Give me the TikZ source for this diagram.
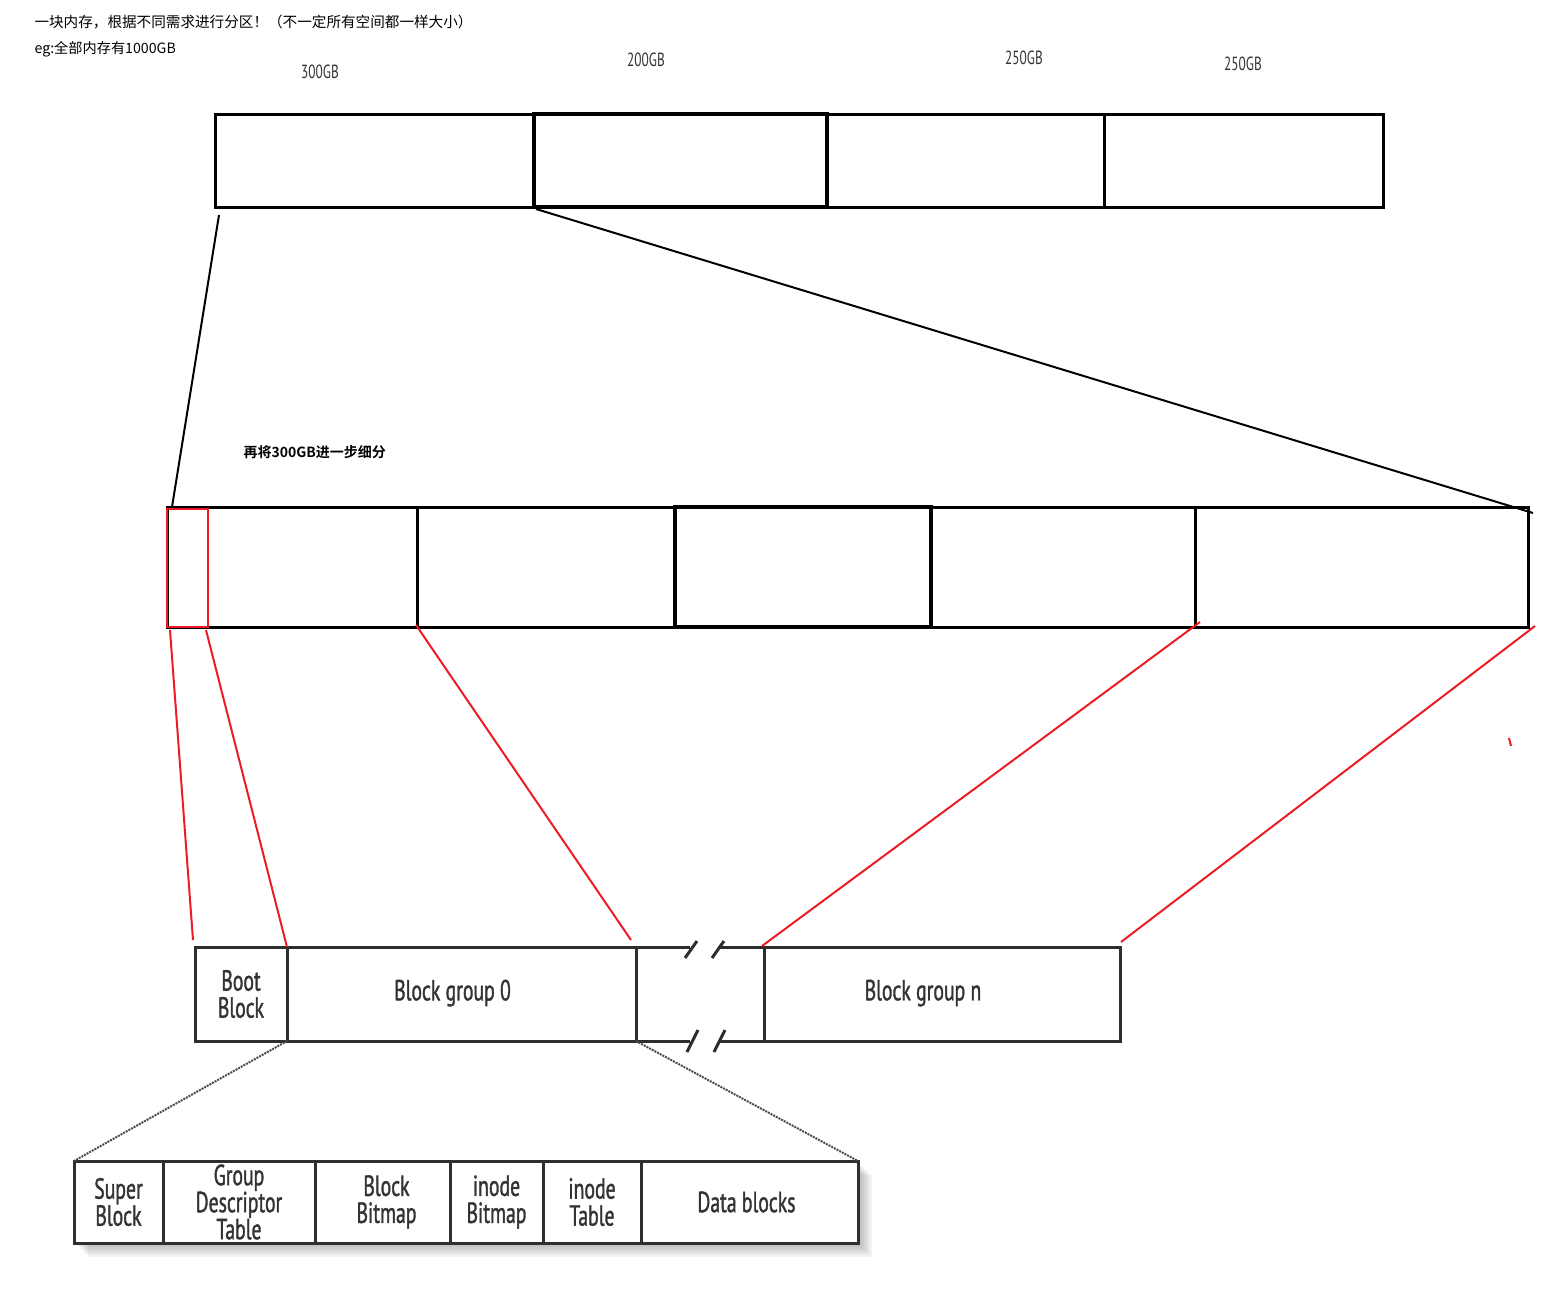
\documentclass[tikz,border=0pt]{standalone}
\usepackage{fontspec}
\newfontfamily\cjkfont[BoldFont={* Bold}]{Noto Sans CJK SC}
\newfontfamily\narrowfont[FakeStretch=0.7]{PT Sans}
\newfontfamily\cellfont[FakeStretch=0.68, FakeBold=1.2]{PT Sans}
\usetikzlibrary{positioning}
\definecolor{paintred}{RGB}{237,28,36}

\tikzset{
  part/.style={draw, line width=3pt, inner sep=0pt, outer sep=0pt, anchor=north west},
  redpart/.style={part, draw=paintred, line width=2.5pt},
  cell/.style={draw=black!82, line width=3pt, inner sep=0pt, outer sep=0pt, anchor=north west,
    font=\cellfont\fontsize{29}{27}\selectfont, text=black!80, align=center},
  cellline/.style={draw=black!82, line width=3pt},
  zoomline/.style={paintred, line width=2pt},
  blackline/.style={line width=2pt},
  dotline/.style={black!70, line width=2pt, densely dotted},
  gblabel/.style={font=\narrowfont\fontsize{19}{19}\selectfont, text=black!80}
}

\begin{document}
\begin{tikzpicture}[x=1pt, y=-1pt]
\useasboundingbox (0,0) rectangle (1545,1291);
% notes
\node[anchor=west, font=\cjkfont\fontsize{14.6}{15}\selectfont] (title) at (31,22) {一块内存，根据不同需求进行分区！（不一定所有空间都一样大小）};
\node[anchor=west, font=\cjkfont\fontsize{14.2}{14}\selectfont] (eg) at (31,49) {eg:全部内存有1000GB};

% whole disk
\node[part, minimum width=319, minimum height=93] (p1) at (215,114) {};
\node[part, minimum width=293, minimum height=93, line width=3.5pt] (p2) at (p1.north east) {};
\node[part, minimum width=277, minimum height=93] (p3) at (p2.north east) {};
\node[part, minimum width=279, minimum height=93] (p4) at (p3.north east) {};
\node[gblabel] (l1) at (320,72) {300GB};
\node[gblabel] (l2) at (646,60) {200GB};
\node[gblabel] (l3) at (1024,58) {250GB};
\node[gblabel] (l4) at (1243,64) {250GB};

% the 300GB part
\node[anchor=west, font=\cjkfont\bfseries\fontsize{14}{14}\selectfont] (sub) at (240,452) {再将300GB进一步细分};
\node[part, minimum width=250, minimum height=120] (m1) at (167,507) {};
\node[part, minimum width=258, minimum height=120] (m2) at (m1.north east) {};
\node[part, minimum width=256, minimum height=120, line width=4pt] (m3) at (m2.north east) {};
\node[part, minimum width=264, minimum height=120] (m4) at (m3.north east) {};
\node[part, minimum width=333, minimum height=120] (m5) at (m4.north east) {};
\node[redpart, minimum width=41, minimum height=118] (rb) at (167,509) {};

\draw[blackline] ([shift={(4,8)}]p1.south west) -- ([shift={(5,0)}]m1.north west);
\draw[blackline] ([shift={(2,2)}]p2.south west) -- ([shift={(5,6)}]m5.north east);

% block groups
\node[cell, minimum width=92, minimum height=94] (boot) at (195,947) {Boot\\Block};
\node[cell, minimum width=349, minimum height=94] (bg0) at (boot.north east) {Block group 0\hspace*{18pt}\rule[-8pt]{0pt}{1pt}};
\node[anchor=north west, inner sep=0pt, outer sep=0pt, minimum width=128, minimum height=94] (gap) at (bg0.north east) {};
\node[cell, minimum width=356, minimum height=94] (bgn) at (gap.north east) {Block group n\hspace*{38pt}\rule[-8pt]{0pt}{1pt}};
\draw[cellline] (gap.north west) -- ++(54,0) (gap.north east) -- ++(-46,0)
  (gap.south west) -- ++(54,0) (gap.south east) -- ++(-46,0);
\foreach \dx in {49,76}{
  \draw[cellline] (gap.north west) ++(\dx,11) -- ++(12,-17);
  \draw[cellline] (gap.south west) ++(\dx+2,11) -- ++(11,-22);
}

\draw[zoomline] ([shift={(3,3)}]rb.south west) -- ([shift={(-2,-7)}]boot.north west);
\draw[zoomline] ([shift={(-2,3)}]rb.south east) -- (boot.north east);
\draw[zoomline] ([shift={(-1,-2)}]m2.south west) -- ([shift={(-5,-7)}]bg0.north east);
\draw[zoomline] ([shift={(5,-5)}]m5.south west) -- ([shift={(-2,-1)}]bgn.north west);
\draw[zoomline] ([shift={(7,-1)}]m5.south east) -- ([shift={(1,-5)}]bgn.north east);
\draw[zoomline] (1509,738) -- (1511,746);

% inside one block group
\foreach \k in {2,4,...,14}
  \fill[black, opacity=0.045] (74+\k,1161+\k) rectangle (858+\k,1243+\k);
\node[cell, fill=white, minimum width=89, minimum height=82] (sb) at (74,1161) {Super\\Block};
\node[cell, fill=white, minimum width=152, minimum height=82] (gdt) at (sb.north east) {Group\\Descriptor\\Table};
\node[cell, fill=white, minimum width=135, minimum height=82] (bb) at (gdt.north east) {\hspace*{8pt}Block\\\hspace*{8pt}Bitmap};
\node[cell, fill=white, minimum width=93, minimum height=82] (ib) at (bb.north east) {inode\\Bitmap};
\node[cell, fill=white, minimum width=98, minimum height=82] (it) at (ib.north east) {inode\\Table};
\node[cell, fill=white, minimum width=217, minimum height=82] (db) at (it.north east) {Data blocks\hspace*{6pt}};

\draw[dotline] (bg0.south west) -- (sb.north west);
\draw[dotline] (bg0.south east) -- (db.north east);
\end{tikzpicture}
\end{document}
